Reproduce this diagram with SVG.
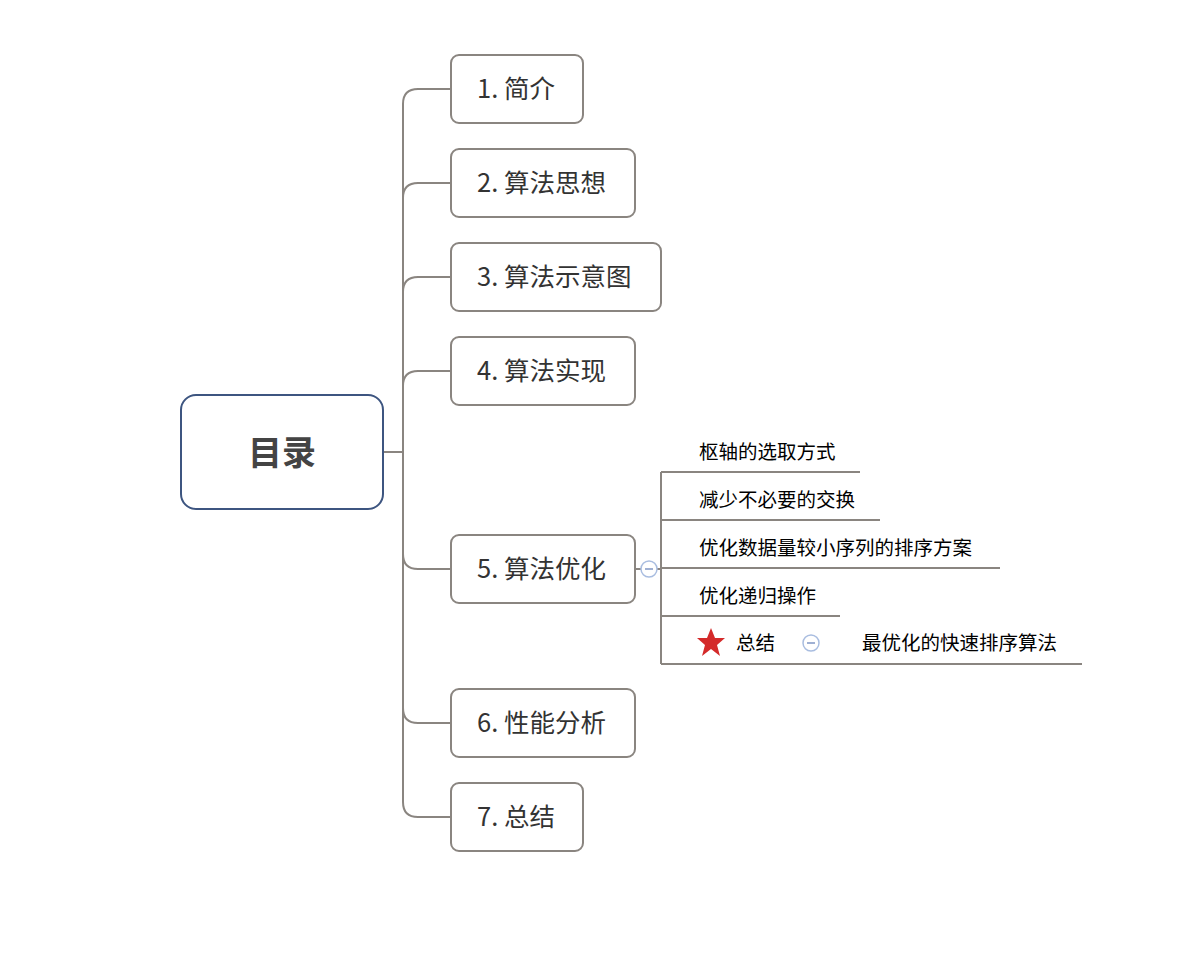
<svg xmlns="http://www.w3.org/2000/svg" width="1204" height="980" viewBox="0 0 1204 980">
<style>
.n{fill:#fff;stroke:#8a8580;stroke-width:2}
.t{font-family:"Noto Sans CJK SC",sans-serif;font-size:25.5px;fill:#333}
.s{font-family:"Noto Sans CJK SC",sans-serif;font-size:19.5px;fill:#000}
.c{fill:none;stroke:#8a8580;stroke-width:2}
.col{fill:#fff;stroke:#a9bde0;stroke-width:1.5}
</style>
<rect width="1204" height="980" fill="#fff"/>
<g id="connectors">
<path class="c" d="M383 452H403"/>
<path class="c" d="M451 89H418Q403 89 403 104V802Q403 817 418 817H451"/>
<path class="c" d="M451 183H418Q403 183 403 198"/>
<path class="c" d="M451 277H418Q403 277 403 292"/>
<path class="c" d="M451 371H418Q403 371 403 386"/>
<path class="c" d="M451 569H418Q403 569 403 554"/>
<path class="c" d="M451 723H418Q403 723 403 708"/>
<path class="c" d="M635 569H641"/>
<path class="c" d="M661 472V664M661 472H860M661 520H880M661 568H1000M661 616H840M661 664H1082M657 569H661"/>
</g>
<g id="root"><rect x="181" y="395" width="202" height="114" rx="15" fill="#fff" stroke="#3d5580" stroke-width="2"/><text x="282" y="465" text-anchor="middle" font-family="'Noto Sans CJK SC',sans-serif" font-size="34" font-weight="bold" fill="#444">目录</text></g>
<g id="n1"><rect class="n" x="451" y="55" width="132" height="68" rx="8"/><text class="t" x="477" y="98">1. 简介</text></g>
<g id="n2"><rect class="n" x="451" y="149" width="184" height="68" rx="8"/><text class="t" x="477" y="192">2. 算法思想</text></g>
<g id="n3"><rect class="n" x="451" y="243" width="210" height="68" rx="8"/><text class="t" x="477" y="286">3. 算法示意图</text></g>
<g id="n4"><rect class="n" x="451" y="337" width="184" height="68" rx="8"/><text class="t" x="477" y="380">4. 算法实现</text></g>
<g id="n5"><rect class="n" x="451" y="535" width="184" height="68" rx="8"/><text class="t" x="477" y="578">5. 算法优化</text><circle class="col" cx="649" cy="569" r="8"/><path d="M645 569H653" stroke="#7f96c4" stroke-width="1.5"/></g>
<g id="n6"><rect class="n" x="451" y="689" width="184" height="68" rx="8"/><text class="t" x="477" y="732">6. 性能分析</text></g>
<g id="n7"><rect class="n" x="451" y="783" width="132" height="68" rx="8"/><text class="t" x="477" y="826">7. 总结</text></g>
<g id="s1"><text class="s" x="699" y="459">枢轴的选取方式</text></g>
<g id="s2"><text class="s" x="699" y="507">减少不必要的交换</text></g>
<g id="s3"><text class="s" x="699" y="555">优化数据量较小序列的排序方案</text></g>
<g id="s4"><text class="s" x="699" y="603">优化递归操作</text></g>
<g id="s5"><polygon points="711,628 715,638 725,638 717,645 720,656 711,649 702,656 705,645 697,638 707,638" fill="#d42a2a"/><text class="s" x="736" y="650">总结</text><circle class="col" cx="811" cy="643" r="8"/><path d="M807 643H815" stroke="#7f96c4" stroke-width="1.5"/></g>
<g id="s6"><text class="s" x="862" y="650">最优化的快速排序算法</text></g>
</svg>
